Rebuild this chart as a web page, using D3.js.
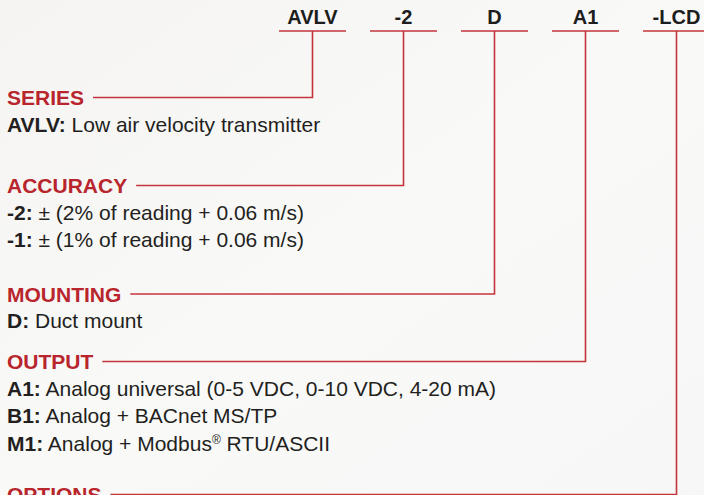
<!DOCTYPE html>
<html>
<head>
<meta charset="utf-8">
<script src="https://cdn.jsdelivr.net/npm/d3@7"></script>
<style>
  html, body { margin: 0; padding: 0; background: #f6f6f5; }
  svg { display: block; }
</style>
</head>
<body>
<svg id="chart" width="704" height="495"></svg>
<script>
// ---- data ----
const codes = ["AVLV", "-2", "D", "A1", "-LCD"];
const headings = ["SERIES", "ACCURACY", "MOUNTING", "OUTPUT", "OPTIONS"];
const optionKeys = [["AVLV:"], ["-2:", "-1:"], ["D:"], ["A1:", "B1:", "M1:"], []];
const optionTexts = [
  ["Low air velocity transmitter"],
  ["± (2% of reading + 0.06 m/s)", "± (1% of reading + 0.06 m/s)"],
  ["Duct mount"],
  ["Analog universal (0-5 VDC, 0-10 VDC, 4-20 mA)", "Analog + BACnet MS/TP", "Analog + Modbus® RTU/ASCII"],
  []
];

// ---- layout ----
const W = 704, H = 495;
const headingBaselines = [105, 193, 301.5, 369, 502];
const bodyOffset = 26.5, lineStep = 27.8;
const codeBaseline = 24, codeRuleY = 31, ruleHalf = 33.5;
const red = "#b8252c", ruleColor = "#c4343a", ink = "#231f20";
const FONT = "'Liberation Sans', Arial, Helvetica, sans-serif";

const svg = d3.select("#chart");
const defs = svg.append("defs");
const grad = defs.append("linearGradient").attr("id", "bg")
  .attr("x1", "0").attr("y1", "0").attr("x2", "1").attr("y2", "1");
grad.append("stop").attr("offset", "0").attr("stop-color", "#f5f4f3");
grad.append("stop").attr("offset", "0.5").attr("stop-color", "#f9f9f8");
grad.append("stop").attr("offset", "1").attr("stop-color", "#f7f7f7");
svg.append("rect").attr("width", W).attr("height", H).attr("fill", "url(#bg)");

const x = d3.scalePoint().domain(codes).range([312.5, 676.5]);

// code labels
svg.append("g").selectAll("text").data(codes).join("text")
  .attr("x", d => x(d)).attr("y", codeBaseline)
  .attr("text-anchor", "middle")
  .attr("font-family", FONT)
  .attr("font-weight", "bold").attr("font-size", 20)
  .attr("fill", "#1d1d1d")
  .text(d => d);

// code underlines
svg.append("g").selectAll("line").data(codes).join("line")
  .attr("x1", d => x(d) - ruleHalf).attr("x2", d => x(d) + ruleHalf)
  .attr("y1", codeRuleY).attr("y2", codeRuleY)
  .attr("stroke", ruleColor).attr("stroke-width", 1.6);

// sections
const sections = headings.map((h, i) => ({
  heading: h, code: codes[i], y: headingBaselines[i],
  items: optionKeys[i].map((k, j) => ({ key: k, text: optionTexts[i][j] }))
}));

const sec = svg.append("g").selectAll("g").data(sections).join("g");

sec.append("text")
  .attr("x", 7).attr("y", d => d.y)
  .attr("font-family", FONT)
  .attr("font-weight", "bold").attr("font-size", 21)
  .attr("fill", red)
  .text(d => d.heading);

// connector: from heading end, across, up to code underline
sec.each(function (d) {
  const g = d3.select(this);
  const tw = g.select("text").node().getComputedTextLength();
  const ly = d.y - 7.5;
  const path = d3.path();
  path.moveTo(7 + tw + 9, ly);
  path.lineTo(x(d.code), ly);
  path.lineTo(x(d.code), codeRuleY);
  g.append("path").attr("d", path.toString())
    .attr("fill", "none").attr("stroke", ruleColor).attr("stroke-width", 1.6);
});

// option lines
sec.each(function (d) {
  const g = d3.select(this);
  const t = g.selectAll("text.opt").data(d.items).join("text")
    .attr("class", "opt")
    .attr("x", 7)
    .attr("y", (o, j) => d.y + bodyOffset + j * lineStep)
    .attr("font-family", FONT)
    .attr("font-size", 21)
    .attr("fill", ink);
  t.append("tspan").attr("font-weight", "bold").text(o => o.key);
  t.each(function (o) {
    const el = d3.select(this);
    const parts = (" " + o.text).split("®");
    parts.forEach((p, k) => {
      if (k > 0) {
        el.append("tspan").attr("font-size", 12).attr("dy", -7).text("®");
        el.append("tspan").attr("dy", 7).text(p);
      } else {
        el.append("tspan").text(p);
      }
    });
  });
});
</script>
</body>
</html>
